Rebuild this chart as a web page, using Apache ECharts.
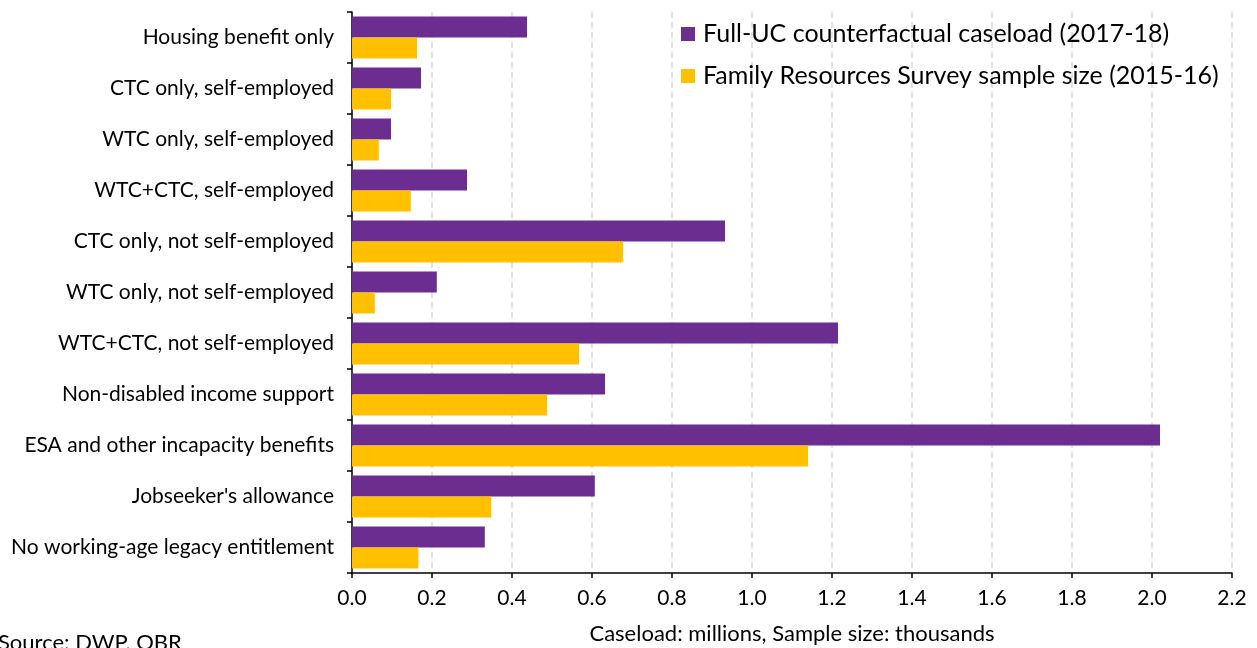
<!DOCTYPE html>
<html>
<head>
<meta charset="utf-8">
<script src="https://cdn.jsdelivr.net/npm/echarts@6/dist/echarts.min.js"></script>
<style>
html,body{margin:0;padding:0;background:#fff;}
#chart{width:1257px;height:648px;}
</style>
</head>
<body>
<div id="chart"></div>
<script>
const categories = [
  "Housing benefit only",
  "CTC only, self-employed",
  "WTC only, self-employed",
  "WTC+CTC, self-employed",
  "CTC only, not self-employed",
  "WTC only, not self-employed",
  "WTC+CTC, not self-employed",
  "Non-disabled income support",
  "ESA and other incapacity benefits",
  "Jobseeker's allowance",
  "No working-age legacy entitlement"
];
const caseload = [0.4375, 0.1725, 0.0975, 0.2875, 0.9325, 0.212, 1.215, 0.6325, 2.02, 0.607, 0.332];
const sampleSize = [0.1625, 0.0975, 0.067, 0.147, 0.6775, 0.057, 0.5675, 0.4875, 1.14, 0.348, 0.166];
const seriesNames = ["Full-UC counterfactual caseload (2017-18)", "Family Resources Survey sample size (2015-16)"];
const xTicks = {min: 0, max: 2.2, interval: 0.2};
const xAxisName = "Caseload: millions, Sample size: thousands";
const sourceText = "Source: DWP, OBR";

const FONT = "Lato";
const chart = echarts.init(document.getElementById('chart'), null, {renderer: 'canvas'});
chart.setOption({
  animation: false,
  textStyle: {fontFamily: FONT, color: '#000'},
  grid: {left: 352, right: 25, top: 12, bottom: 75, containLabel: false, outerBoundsMode: 'none'},
  legend: {
    orient: 'vertical',
    left: 676, top: 15,
    itemWidth: 14, itemHeight: 14, itemGap: 14,
    icon: 'rect',
    textStyle: {fontFamily: FONT, fontSize: 25, color: '#000', lineHeight: 28, padding: [0,0,0,3]},
    data: seriesNames
  },
  xAxis: {
    type: 'value',
    min: xTicks.min, max: xTicks.max, interval: xTicks.interval,
    name: xAxisName, nameLocation: 'middle', nameGap: 50,
    nameTextStyle: {fontFamily: FONT, fontSize: 22, color: '#000'},
    axisLine: {show: true, lineStyle: {color: '#000', width: 1.5}},
    axisTick: {show: true, length: 5, lineStyle: {color: '#000', width: 1.5}},
    axisLabel: {fontFamily: FONT, fontSize: 21, color: '#000', margin: 15, formatter: v => v.toFixed(1)},
    splitLine: {show: true, lineStyle: {color: '#d9d9d9', type: [6, 4], width: 1.5}}
  },
  yAxis: {
    type: 'category',
    data: categories,
    inverse: true,
    axisLine: {show: true, lineStyle: {color: '#000', width: 1.5}},
    axisTick: {show: true, length: 5, lineStyle: {color: '#000', width: 1.5}},
    axisLabel: {fontFamily: FONT, fontSize: 21, color: '#000', margin: 18},
    splitLine: {show: false}
  },
  series: [
    {
      name: seriesNames[0], type: 'bar', data: caseload,
      barWidth: 21, barGap: '0%',
      itemStyle: {color: '#6B2D8F'}
    },
    {
      name: seriesNames[1], type: 'bar', data: sampleSize,
      barWidth: 21, barGap: '0%',
      itemStyle: {color: '#FFC000'}
    }
  ],
  graphic: [{
    type: 'text', left: -2, top: 632,
    style: {text: sourceText, fontFamily: FONT, fontSize: 22, fill: '#000'}
  }]
});
</script>
</body>
</html>
